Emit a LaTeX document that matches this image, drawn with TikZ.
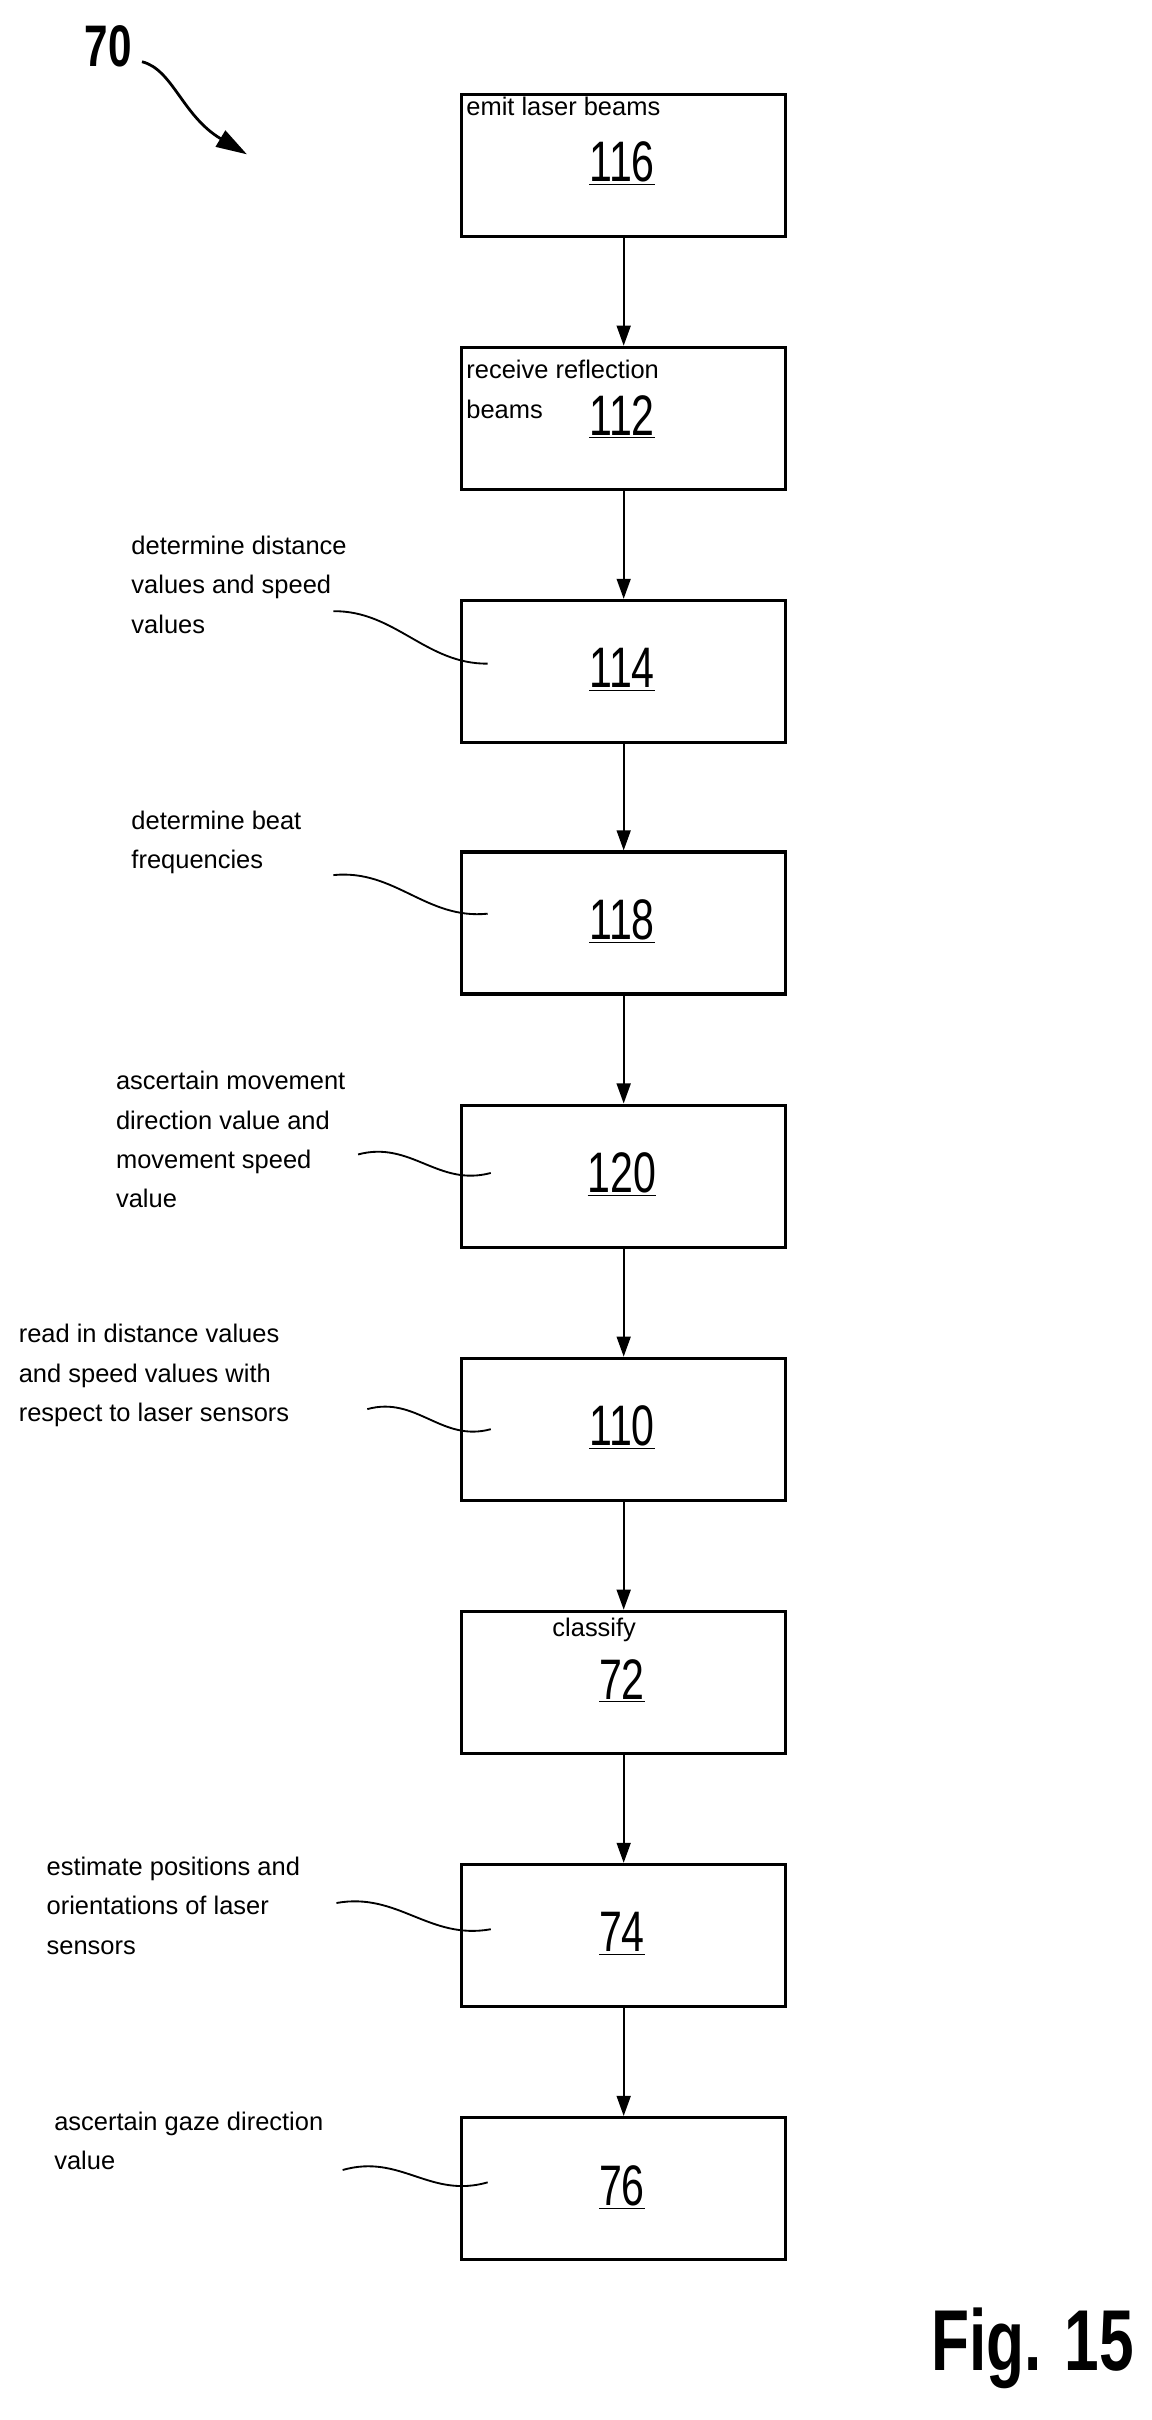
\documentclass[tikz,border=0pt]{standalone}
\usepackage{fontspec}
\setmainfont{Liberation Sans}
\newfontfamily\numfont[FakeStretch=0.72]{Liberation Sans}
\usetikzlibrary{arrows.meta,calc}
\begin{document}
\begin{tikzpicture}[x=1pt,y=-1pt,
  box/.style={draw,line width=2.2pt,minimum width=210pt,minimum height=92pt,inner sep=0pt,anchor=north west},
  num/.style={font=\numfont\fontsize{37}{37}\selectfont},
  lab/.style={anchor=north west,align=left,font=\fontsize{16.5}{25.5}\selectfont,inner sep=0pt},
  lead/.style={line width=1.2pt},
  flow/.style={line width=1.3pt,-{Triangle[width=9pt,length=13pt]}}]
\useasboundingbox (0,0) rectangle (746,1568);
\foreach \n/\y in {116/60,112/224,114/388,118/551,120/715,110/879,72/1043,74/1207,76/1371}{
  \node[box] (b\n) at (298,\y) {};
}
\node[num] (n116) at (403,106) {\underline{116}};
\node[anchor=north west,inner sep=0pt,font=\fontsize{16.5}{16.5}\selectfont] (t116) at (302,63) {emit laser beams};
\node[anchor=north west,inner sep=0pt,font=\fontsize{16.5}{16.5}\selectfont] (t112) at (302,233) {receive reflection};
\node[anchor=north west,inner sep=0pt,font=\fontsize{16.5}{16.5}\selectfont] (t112b) at (302,259) {beams};
\node[num] (n112) at (403,270) {\underline{112}};
\node[num] (n114) at (403,434) {\underline{114}};
\node[num] (n118) at (403,597) {\underline{118}};
\node[num] (n120) at (403,761) {\underline{120}};
\node[num] (n110) at (403,925) {\underline{110}};
\node[anchor=north,inner sep=0pt,font=\fontsize{16.5}{16.5}\selectfont] (t72) at (385,1048) {classify};
\node[num] (n72) at (403,1089) {\underline{72}};
\node[num] (n74) at (403,1253) {\underline{74}};
\node[num] (n76) at (403,1417) {\underline{76}};
\foreach \a/\b in {116/112,112/114,114/118,118/120,120/110,110/72,72/74,74/76}{
  \draw[flow] (b\a.south) -- (b\b.north);
}
\node[lab] (l114) at (85,347) {determine distance\\values and speed\\values};
\node[lab] (l118) at (85,525) {determine beat\\frequencies};
\node[lab] (l120) at (75,694) {ascertain movement\\direction value and\\movement speed\\value};
\node[lab] (l110) at (12,858) {read in distance values\\and speed values with\\respect to laser sensors};
\node[lab] (l74) at (30,1203) {estimate positions and\\orientations of laser\\sensors};
\node[lab] (l76) at (35,1368) {ascertain gaze direction\\value};
\coordinate (a114) at (316,430); \coordinate (s114) at (216,396);
\coordinate (a118) at (316,592); \coordinate (s118) at (216,567);
\coordinate (a120) at (318,760); \coordinate (s120) at (232,748);
\coordinate (a110) at (318,926); \coordinate (s110) at (238,913);
\coordinate (a74) at (318,1250); \coordinate (s74) at (218,1233);
\coordinate (a76) at (316,1414); \coordinate (s76) at (222,1406);
\foreach \k in {114,118,120,110,74,76}{
  \draw[lead] (s\k) .. controls ($(s\k)!0.4!(a\k)+(0,-14)$) and ($(s\k)!0.6!(a\k)+(0,14)$) .. (a\k);
}
\node[font=\numfont\fontsize{38}{38}\selectfont\bfseries] (l70) at (70,30) {70};
\coordinate (e70) at (160,100);
\draw[line width=1.8pt,-{Triangle[width=12pt,length=20pt]}] (92,40) .. controls (112,45) and (118,75) .. (e70);
\node[anchor=south east,inner sep=0pt,font=\numfont\fontsize{56}{56}\selectfont\bfseries] (fig) at (735,1548) {Fig. 15};
\end{tikzpicture}
\end{document}
